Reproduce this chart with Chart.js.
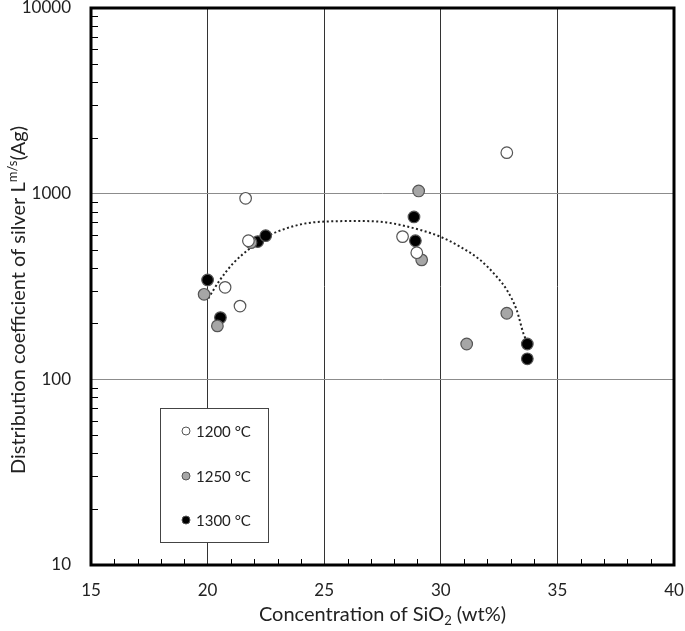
<!DOCTYPE html>
<html>
<head>
<meta charset="utf-8">
<script src="https://cdn.jsdelivr.net/npm/chart.js@4"></script>
<style>
  html, body { margin: 0; padding: 0; background: #fff; }
  #wrap { width: 685px; height: 631px; }
</style>
</head>
<body>
<div id="wrap"><canvas id="chart"></canvas></div>
<script>
// SiO2 (wt%) and L m/s (Ag)
const sio2_1200 = [21.63, 21.75, 20.75, 21.39, 32.83, 28.36, 28.97];
const L_1200    = [944, 558, 313, 248, 1663, 587, 481];
const sio2_1250 = [21.86, 19.85, 20.42, 29.05, 29.18, 32.83, 31.11];
const L_1250    = [545, 287, 194, 1034, 440, 227, 155];
const sio2_1300 = [22.15, 22.49, 20.0, 20.55, 28.85, 28.91, 33.71, 33.71];
const L_1300    = [552, 594, 343, 215, 749, 558, 155, 129];

// dotted trend curve
const trendX = [20.03, 20.53, 21.10, 21.82, 22.53, 23.39, 24.25, 25.39, 26.54, 27.68, 29.11, 29.97, 30.82, 31.68, 32.40, 32.83, 33.25, 33.54, 33.68];
const trendY = [273, 343, 422, 508, 587, 651, 693, 710, 712, 700, 638, 587, 519, 440, 357, 303, 237, 177, 160];

const seriesLabels = ["1200 °C", "1250 °C", "1300 °C"];
const xTicks = [15, 20, 25, 30, 35, 40];
const yTicks = [10, 100, 1000, 10000];

const FONT = "Lato";
const pts = (xs, ys) => xs.map((x, i) => ({ x, y: ys[i] }));

function markerSet(label, xs, ys, fill, order) {
  return {
    label, data: pts(xs, ys), order,
    pointRadius: 5.8, pointHoverRadius: 5.8,
    pointBackgroundColor: fill, pointBorderColor: "#555", pointBorderWidth: 1.2,
    showLine: false
  };
}

const frame = {
  id: "frame",
  afterDraw(chart) {
    const { ctx, chartArea: a } = chart;
    const xs = chart.scales.x, ys = chart.scales.y;
    ctx.save();
    // minor ticks (inward)
    ctx.strokeStyle = "#000";
    ctx.lineWidth = 1;
    ctx.beginPath();
    for (let v = 16; v < 40; v++) {
      if (v % 5 === 0) continue;
      const px = Math.round(xs.getPixelForValue(v)) + 0.5;
      ctx.moveTo(px, a.bottom);
      ctx.lineTo(px, a.bottom - 6);
    }
    for (let d = 10; d < 10000; d *= 10) {
      for (let m = 2; m <= 9; m++) {
        const py = Math.round(ys.getPixelForValue(d * m)) + 0.5;
        ctx.moveTo(a.left, py);
        ctx.lineTo(a.left + 7, py);
      }
    }
    ctx.stroke();
    // thick frame
    ctx.lineWidth = 3;
    ctx.strokeRect(a.left, a.top, a.right - a.left, a.bottom - a.top);

    // legend box
    const lx = 160, ly = 408, lw = 108, lh = 134;
    ctx.fillStyle = "#fff";
    ctx.fillRect(lx, ly, lw, lh);
    ctx.lineWidth = 1;
    ctx.strokeStyle = "#444";
    ctx.strokeRect(lx + 0.5, ly + 0.5, lw, lh);
    const rows = [431, 476, 520];
    ctx.font = "15px " + FONT;
    ctx.textBaseline = "middle";
    chart.data.datasets.slice(0, 3).forEach((ds, i) => {
      ctx.beginPath();
      ctx.arc(lx + 26, rows[i], 4, 0, Math.PI * 2);
      ctx.fillStyle = ds.pointBackgroundColor;
      ctx.fill();
      ctx.strokeStyle = "#555";
      ctx.lineWidth = 1;
      ctx.stroke();
      ctx.fillStyle = "#222";
      ctx.textAlign = "left";
      ctx.fillText(ds.label, lx + 36, rows[i] + 1);
    });

    // axis titles with sub/superscript
    const big = "20px " + FONT, small = "13px " + FONT;
    ctx.fillStyle = "#222";
    ctx.textBaseline = "alphabetic";
    ctx.textAlign = "left";
    // x title
    const xParts = [["Concentration of SiO", big, 0], ["2", small, 4], [" (wt%)", big, 0]];
    let tw = 0;
    xParts.forEach(p => { ctx.font = p[1]; tw += ctx.measureText(p[0]).width; });
    let cx = (a.left + a.right) / 2 - tw / 2;
    xParts.forEach(p => { ctx.font = p[1]; ctx.fillText(p[0], cx, 621 + p[2]); cx += ctx.measureText(p[0]).width; });
    // y title
    const yParts = [["Distribution coefficient of silver L", big, 0], ["m/s", small, -8], ["(Ag)", big, 0]];
    tw = 0;
    yParts.forEach(p => { ctx.font = p[1]; tw += ctx.measureText(p[0]).width; });
    ctx.translate(25, 300);
    ctx.rotate(-Math.PI / 2);
    cx = -tw / 2;
    yParts.forEach(p => { ctx.font = p[1]; ctx.fillText(p[0], cx, p[2]); cx += ctx.measureText(p[0]).width; });
    ctx.restore();
  }
};

new Chart(document.getElementById("chart"), {
  type: "scatter",
  data: {
    datasets: [
      markerSet(seriesLabels[0], sio2_1200, L_1200, "#ffffff", 1),
      markerSet(seriesLabels[1], sio2_1250, L_1250, "#a6a6a6", 1),
      markerSet(seriesLabels[2], sio2_1300, L_1300, "#000000", 1),
      {
        label: "trend", data: pts(trendX, trendY), order: 5,
        showLine: true, pointRadius: 0, borderColor: "#222", borderWidth: 2,
        borderDash: [2, 2.5], cubicInterpolationMode: "monotone", fill: false
      }
    ]
  },
  options: {
    responsive: true, maintainAspectRatio: false, animation: false,
    layout: { autoPadding: false, padding: { top: 8, right: 11, left: 0, bottom: 0 } },
    plugins: { legend: { display: false }, tooltip: { enabled: false } },
    scales: {
      x: {
        type: "linear", min: 15, max: 40,
        afterBuildTicks: s => { s.ticks = xTicks.map(v => ({ value: v })); },
        afterFit: s => { s.height = 66; s.paddingLeft = 0; s.paddingRight = 0; },
        ticks: { padding: 15, color: "#222", font: { family: FONT, size: 17 } },
        grid: { drawTicks: false, color: "#333", lineWidth: 1 },
        border: { display: false }
      },
      y: {
        type: "logarithmic", min: 10, max: 10000,
        afterBuildTicks: s => { s.ticks = yTicks.map(v => ({ value: v })); },
        afterFit: s => { s.width = 91; s.paddingTop = 0; s.paddingBottom = 0; },
        ticks: { padding: 20, color: "#222", font: { family: FONT, size: 17 }, callback: v => String(v) },
        grid: { drawTicks: false, color: "#8c8c8c", lineWidth: 1 },
        border: { display: false }
      }
    }
  },
  plugins: [frame]
});
</script>
</body>
</html>
